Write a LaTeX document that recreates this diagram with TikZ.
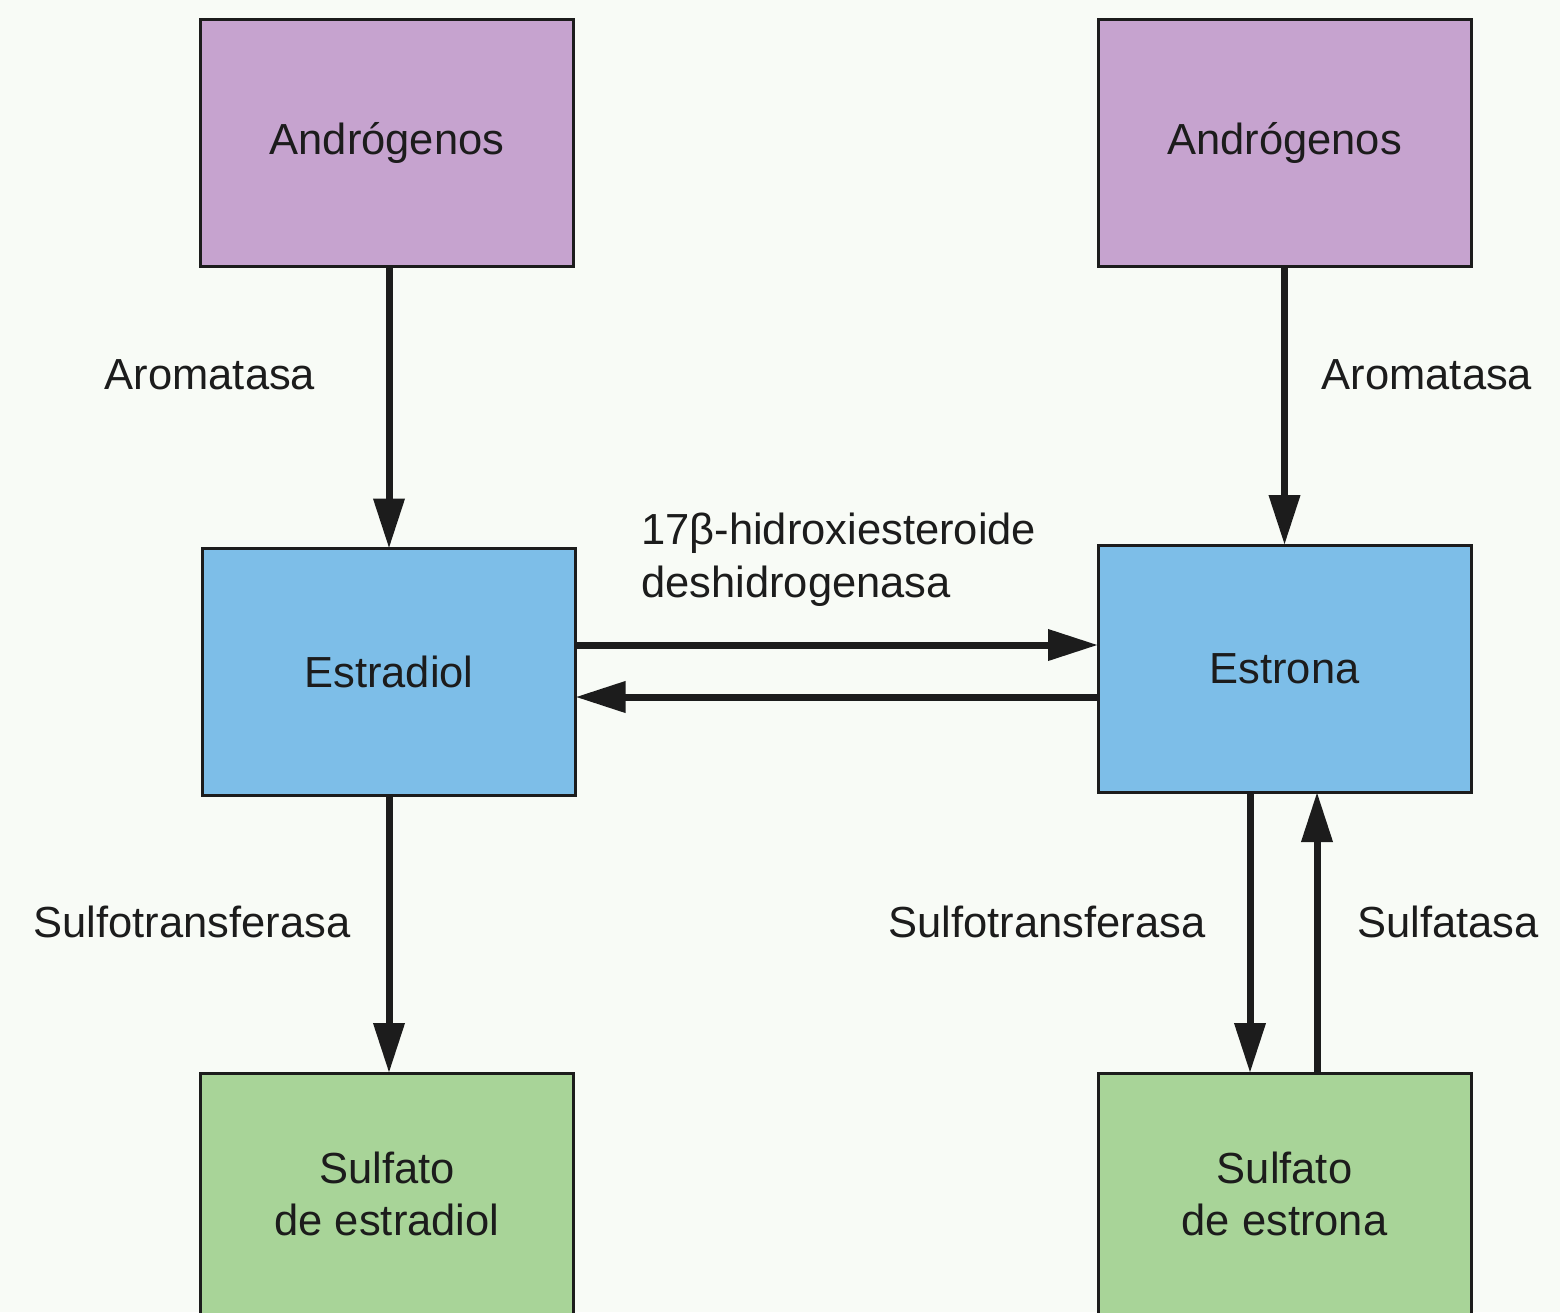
\documentclass[tikz,border=0pt]{standalone}
\usepackage{fontspec}
\setmainfont{Liberation Sans}
\usetikzlibrary{arrows.meta}
\definecolor{bgc}{RGB}{248,251,246}
\definecolor{purp}{RGB}{198,163,207}
\definecolor{bluec}{RGB}{125,190,232}
\definecolor{greenc}{RGB}{168,212,152}
\definecolor{ink}{RGB}{28,28,28}
\tikzset{
  box/.style={rectangle, draw=ink, line width=3pt, minimum width=373pt, minimum height=247pt,
    inner sep=0pt, outer sep=0pt, align=center, text=ink,
    font=\fontsize{43.5}{52}\selectfont},
  lab/.style={inner sep=0pt, text=ink, font=\fontsize{43.5}{53}\selectfont},
  conn/.style={draw=ink, line width=7pt, -{Triangle[length=50pt,width=30pt]}}
}
\begin{document}
\begin{tikzpicture}[x=1pt,y=-1pt]
\useasboundingbox (0,0) rectangle (1560,1312);
\clip (0,0) rectangle (1560,1312);
\fill[bgc] (0,0) rectangle (1560,1312);

\node[box, fill=purp] (andL) at (387,142.5) {Andrógenos};
\node[box, fill=purp] (andR) at (1284.5,142.5) {Andrógenos};
\node[box, fill=bluec] (estradiol) at (389,672) {Estradiol};
\node[box, fill=bluec] (estrona) at (1284.5,668.5) {Estrona};
\node[box, fill=greenc, minimum height=242pt, anchor=north] (sulfD) at (387,1073) {Sulfato\\de estradiol};
\node[box, fill=greenc, minimum height=242pt, anchor=north] (sulfE) at (1284.5,1073) {Sulfato\\de estrona};

\draw[conn] ([xshift=2pt]andL.south) -- ([xshift=2pt]andL.south |- estradiol.north);
\draw[conn] (andR.south) -- (estrona.north);
\draw[conn] ([yshift=27pt]estradiol.east) -- ([yshift=27pt]estradiol.east -| estrona.west);
\draw[conn] ([yshift=-25pt]estradiol.east -| estrona.west) -- ([yshift=-25pt]estradiol.east);
\draw[conn] (estradiol.south) -- (estradiol.south |- sulfD.north);
\draw[conn] ([xshift=-34.5pt]estrona.south) -- ([xshift=-34.5pt]sulfE.north);
\draw[conn] ([xshift=32.5pt]sulfE.north) -- ([xshift=32.5pt]estrona.south);

\node[lab] (aroL) at (210,375) {Aromatasa};
\node[lab] (aroR) at (1427,375) {Aromatasa};
\node[lab, anchor=west, align=left] (hsd) at (641,560) {17β-hidroxiesteroide\\deshidrogenasa};
\node[lab] (sulfotL) at (192,922) {Sulfotransferasa};
\node[lab] (sulfotR) at (1047,922) {Sulfotransferasa};
\node[lab] (sulfat) at (1448,922) {Sulfatasa};
\end{tikzpicture}
\end{document}
